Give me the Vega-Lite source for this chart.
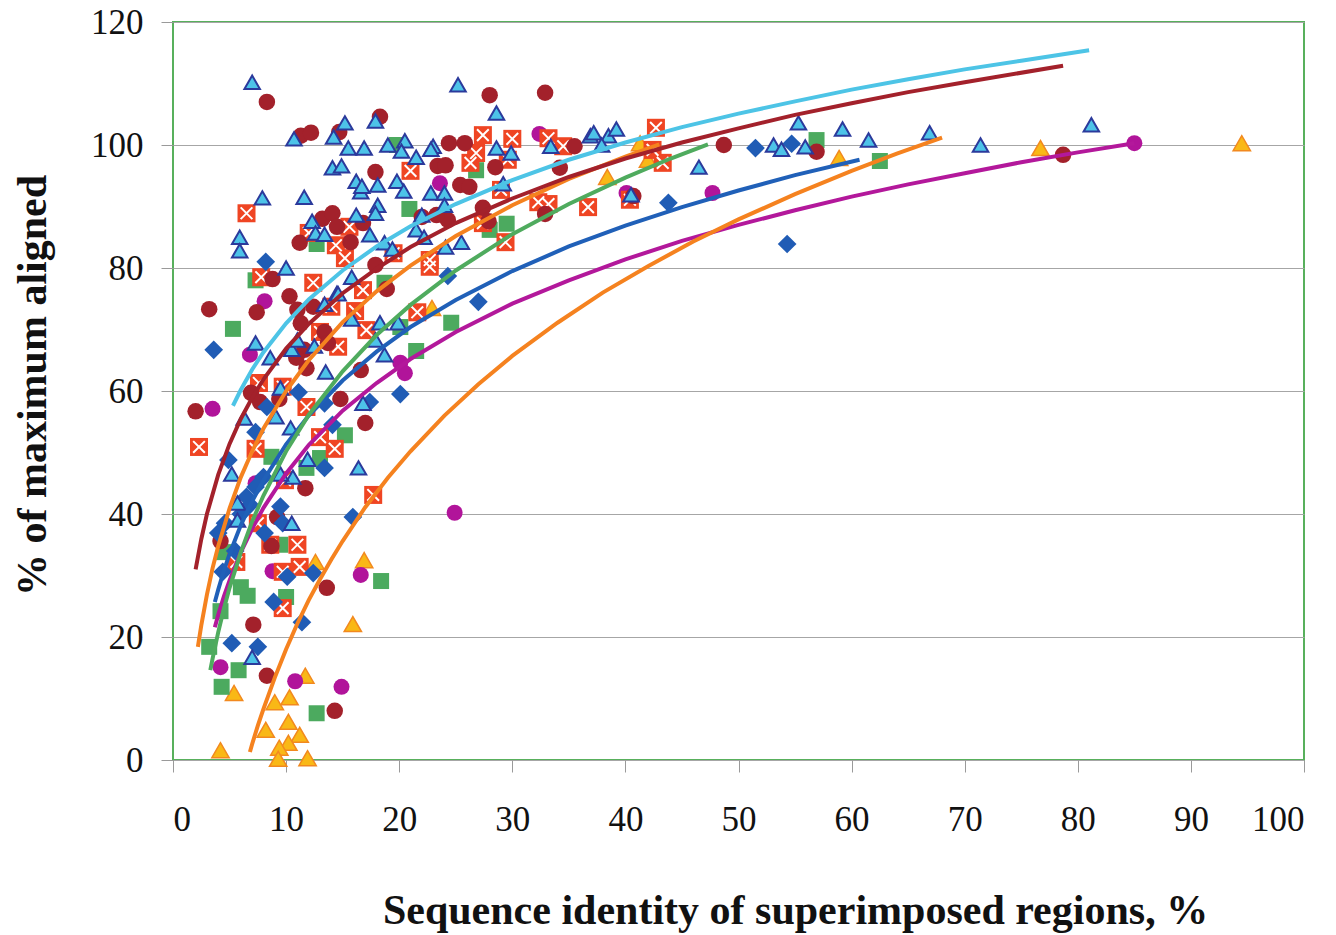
{
  "$schema": "https://vega.github.io/schema/vega-lite/v6.json",
  "width": 1131,
  "height": 738,
  "autosize": {"type": "none"},
  "padding": {"left": 173, "top": 22, "right": 32, "bottom": 175},
  "background": "white",
  "config": {
    "view": {"stroke": "#58b05c", "strokeWidth": 2},
    "axis": {
      "domain": false,
      "tickColor": "#9a9a9a",
      "tickSize": 12,
      "tickWidth": 1,
      "labelFont": "Liberation Serif",
      "labelFontSize": 35,
      "labelColor": "#111111",
      "titleFont": "Liberation Serif",
      "titleFontSize": 42,
      "titleFontWeight": "bold",
      "titleColor": "#111111"
    }
  },
  "datasets": {
    "tri": [
      {"x":7.0,"y":110.2},{"x":15.2,"y":103.6},{"x":10.7,"y":101.0},{"x":14.2,"y":101.3},{"x":15.5,"y":99.5},{"x":16.9,"y":99.5},{"x":14.1,"y":96.3},{"x":14.9,"y":96.6},{"x":16.2,"y":94.1},{"x":16.6,"y":92.4},{"x":16.7,"y":93.3},{"x":7.9,"y":91.4},{"x":11.6,"y":91.5},{"x":12.3,"y":87.6},{"x":12.6,"y":85.7},{"x":13.4,"y":85.5},{"x":16.2,"y":88.6},{"x":17.4,"y":85.4},{"x":5.9,"y":85.0},{"x":5.9,"y":82.8},{"x":10.0,"y":80.0},{"x":15.8,"y":78.5},{"x":14.5,"y":75.9},
      {"x":25.2,"y":109.8},{"x":28.6,"y":105.2},{"x":17.9,"y":103.9},{"x":19.0,"y":100.0},{"x":20.5,"y":100.7},{"x":20.2,"y":99.0},{"x":21.5,"y":98.0},{"x":23.0,"y":99.8},{"x":22.8,"y":99.3},{"x":28.6,"y":99.5},{"x":29.9,"y":98.7},{"x":33.4,"y":99.8},{"x":18.1,"y":93.5},{"x":19.8,"y":94.1},{"x":20.4,"y":92.5},{"x":22.8,"y":92.2},{"x":24.0,"y":92.2},{"x":24.0,"y":90.2},{"x":18.1,"y":90.2},{"x":17.9,"y":88.9},{"x":22.0,"y":88.6},{"x":21.5,"y":86.2},{"x":22.2,"y":85.0},{"x":29.2,"y":93.7},{"x":25.5,"y":84.2},{"x":24.1,"y":83.4},{"x":18.7,"y":84.1},{"x":19.4,"y":83.1},
      {"x":7.3,"y":67.8},{"x":8.6,"y":65.4},{"x":10.5,"y":66.8},{"x":11.0,"y":68.3},{"x":12.5,"y":67.3},{"x":13.4,"y":74.1},{"x":14.6,"y":75.8},{"x":15.8,"y":71.7},{"x":13.5,"y":63.1},{"x":9.5,"y":60.5},{"x":9.1,"y":55.8},{"x":6.3,"y":55.6},{"x":10.4,"y":54.0},{"x":16.8,"y":58.0},{"x":16.4,"y":47.5},{"x":11.9,"y":48.9},{"x":10.6,"y":46.0},{"x":9.5,"y":46.5},{"x":5.2,"y":46.5},{"x":5.7,"y":41.8},{"x":5.7,"y":39.0},{"x":10.5,"y":38.5},
      {"x":18.3,"y":71.1},{"x":19.9,"y":71.1},{"x":17.9,"y":68.3},{"x":18.7,"y":65.9},{"x":7.0,"y":16.7},
      {"x":36.9,"y":101.5},{"x":37.2,"y":102.0},{"x":38.5,"y":101.5},{"x":39.2,"y":102.6},{"x":37.9,"y":100.0},{"x":40.5,"y":91.9},{"x":46.5,"y":96.4},{"x":55.3,"y":103.6},{"x":53.1,"y":100.0},{"x":53.8,"y":99.3},{"x":55.9,"y":99.7},{"x":59.2,"y":102.6},{"x":61.5,"y":100.8},{"x":66.9,"y":102.0},{"x":71.4,"y":100.0},{"x":81.2,"y":103.3}
    ],
    "dia": [
      {"x":3.6,"y":66.7},{"x":54.3,"y":83.9},{"x":51.5,"y":99.5},{"x":54.7,"y":100.2},{"x":43.8,"y":90.6},{"x":24.3,"y":78.7},{"x":27.0,"y":74.5},{"x":20.1,"y":59.5},{"x":11.1,"y":59.8},{"x":8.3,"y":57.4},{"x":7.3,"y":53.3},{"x":13.4,"y":58.0},{"x":14.1,"y":54.5},{"x":17.4,"y":58.2},{"x":4.9,"y":48.8},{"x":13.4,"y":47.5},{"x":8.0,"y":46.0},{"x":9.5,"y":41.2},{"x":7.3,"y":44.4},{"x":6.8,"y":41.5},{"x":4.6,"y":38.5},{"x":15.9,"y":39.5},{"x":6.5,"y":42.8},{"x":8.1,"y":36.9},{"x":9.7,"y":38.5},{"x":12.4,"y":30.4},{"x":10.1,"y":29.8},{"x":8.9,"y":25.7},{"x":11.4,"y":22.4},{"x":5.2,"y":19.0},{"x":7.5,"y":18.4},{"x":4.4,"y":30.6},{"x":8.2,"y":81.0},{"x":4.0,"y":36.9},{"x":5.5,"y":34.0},{"x":6.0,"y":40.0}
    ],
    "grn": [
      {"x":5.3,"y":70.1},{"x":19.8,"y":100.0},{"x":20.9,"y":89.6},{"x":26.8,"y":95.9},{"x":29.5,"y":87.2},{"x":28.0,"y":86.2},{"x":24.6,"y":71.1},{"x":21.5,"y":66.5},{"x":20.1,"y":70.4},{"x":15.2,"y":52.8},{"x":56.9,"y":100.8},{"x":62.5,"y":97.4},{"x":18.4,"y":29.1},{"x":12.7,"y":7.6},{"x":4.3,"y":11.9},{"x":5.8,"y":14.6},{"x":3.2,"y":18.4},{"x":6.0,"y":28.1},{"x":6.6,"y":26.7},{"x":10.0,"y":26.5},{"x":4.2,"y":24.2},{"x":4.5,"y":33.8},{"x":9.5,"y":35.0},{"x":12.7,"y":83.9},{"x":7.3,"y":78.0},{"x":18.7,"y":77.6},{"x":8.7,"y":49.3},{"x":11.8,"y":47.5},{"x":13.0,"y":49.1}
    ],
    "rx": [
      {"x":6.5,"y":88.9},{"x":12.0,"y":85.7},{"x":14.4,"y":83.7},{"x":15.2,"y":81.6},{"x":15.6,"y":86.7},{"x":7.8,"y":78.5},{"x":12.4,"y":77.6},{"x":16.8,"y":76.4},
      {"x":27.4,"y":101.6},{"x":30.0,"y":101.0},{"x":33.2,"y":101.1},{"x":34.5,"y":99.8},{"x":26.8,"y":98.7},{"x":26.3,"y":97.1},{"x":29.6,"y":97.6},{"x":21.0,"y":95.8},{"x":29.0,"y":92.7},{"x":32.3,"y":90.7},{"x":33.2,"y":90.4},{"x":27.4,"y":87.3},{"x":29.4,"y":84.2},{"x":22.7,"y":81.3},{"x":22.7,"y":80.2},{"x":19.5,"y":82.4},
      {"x":7.6,"y":61.3},{"x":9.7,"y":60.7},{"x":11.8,"y":57.4},{"x":14.6,"y":67.2},{"x":13.0,"y":69.6},{"x":14.0,"y":73.7},{"x":16.1,"y":73.0},{"x":17.1,"y":69.9},{"x":2.3,"y":50.9},{"x":7.3,"y":50.6},{"x":13.0,"y":52.5},{"x":14.3,"y":50.6},{"x":9.9,"y":45.5},{"x":17.7,"y":43.1},{"x":21.6,"y":72.8},
      {"x":7.5,"y":38.5},{"x":8.6,"y":35.0},{"x":11.0,"y":35.0},{"x":5.6,"y":32.2},{"x":9.7,"y":30.6},{"x":11.2,"y":31.4},{"x":9.7,"y":24.7},
      {"x":42.7,"y":102.8},{"x":42.4,"y":99.2},{"x":43.3,"y":97.1},{"x":36.7,"y":89.9},{"x":40.4,"y":91.1}
    ],
    "dr": [
      {"x":8.3,"y":107.0},{"x":11.3,"y":101.5},{"x":12.2,"y":102.0},{"x":14.7,"y":102.1},{"x":13.2,"y":88.0},{"x":14.1,"y":88.9},{"x":14.5,"y":86.7},{"x":15.7,"y":84.2},{"x":16.8,"y":87.3},{"x":11.2,"y":84.1},{"x":8.8,"y":78.2},{"x":10.3,"y":75.4},
      {"x":28.0,"y":108.1},{"x":32.9,"y":108.5},{"x":18.3,"y":104.6},{"x":24.4,"y":100.3},{"x":25.8,"y":100.3},{"x":23.4,"y":96.6},{"x":24.1,"y":96.7},{"x":28.5,"y":96.4},{"x":17.9,"y":95.6},{"x":25.4,"y":93.5},{"x":26.2,"y":93.2},{"x":27.4,"y":89.8},{"x":27.9,"y":87.6},{"x":24.3,"y":87.8},{"x":23.3,"y":88.6},{"x":22.0,"y":88.3},{"x":32.9,"y":88.8},{"x":34.2,"y":96.3},{"x":17.9,"y":80.5},{"x":18.9,"y":76.6},
      {"x":3.2,"y":73.3},{"x":7.4,"y":72.8},{"x":11.0,"y":73.2},{"x":11.3,"y":71.0},{"x":11.6,"y":66.7},{"x":12.4,"y":73.7},{"x":13.4,"y":69.6},{"x":13.7,"y":67.8},{"x":11.8,"y":63.7},{"x":10.9,"y":65.4},{"x":6.9,"y":59.7},{"x":7.7,"y":58.2},{"x":9.4,"y":58.7},{"x":14.8,"y":58.7},{"x":17.0,"y":54.8},{"x":16.6,"y":63.4},{"x":2.0,"y":56.7},{"x":11.7,"y":44.2},{"x":9.2,"y":39.5},
      {"x":4.2,"y":35.6},{"x":8.7,"y":34.8},{"x":7.1,"y":22.0},{"x":13.6,"y":28.0},{"x":8.3,"y":13.7},{"x":14.3,"y":8.0},
      {"x":35.5,"y":99.8},{"x":40.7,"y":91.7},{"x":48.7,"y":100.0},{"x":56.9,"y":98.9},{"x":78.7,"y":98.4}
    ],
    "mag": [
      {"x":85.0,"y":100.3},{"x":47.7,"y":92.2},{"x":40.1,"y":92.2},{"x":32.4,"y":101.8},{"x":23.6,"y":93.8},{"x":8.1,"y":74.6},{"x":3.5,"y":57.1},{"x":6.8,"y":65.9},{"x":20.1,"y":64.6},{"x":20.5,"y":62.9},{"x":24.9,"y":40.2},{"x":16.6,"y":30.1},{"x":10.8,"y":12.8},{"x":14.9,"y":11.9},{"x":4.2,"y":15.1},{"x":8.8,"y":30.7},{"x":7.3,"y":45.0}
    ],
    "otri": [
      {"x":94.5,"y":100.3},{"x":76.7,"y":99.5},{"x":58.9,"y":97.9},{"x":38.4,"y":94.8},{"x":42.0,"y":97.6},{"x":41.3,"y":100.3},{"x":22.9,"y":73.5},{"x":12.6,"y":32.2},{"x":16.9,"y":32.5},{"x":15.9,"y":22.1},{"x":11.7,"y":13.7},{"x":5.4,"y":10.9},{"x":9.0,"y":9.4},{"x":10.3,"y":10.2},{"x":10.2,"y":6.2},{"x":8.2,"y":4.9},{"x":11.2,"y":4.1},{"x":10.2,"y":2.8},{"x":9.4,"y":2.0},{"x":4.2,"y":1.6},{"x":9.3,"y":0.2},{"x":11.9,"y":0.3}
    ],
    "lcyan": [
      {"x":5.3,"y":57.6},{"x":6,"y":60.2},{"x":7,"y":63.5},{"x":8,"y":66.3},{"x":10,"y":71.0},{"x":12,"y":74.9},{"x":15,"y":79.6},{"x":18,"y":83.5},{"x":21,"y":86.8},{"x":25,"y":90.4},{"x":30,"y":94.3},{"x":35,"y":97.6},{"x":40,"y":100.4},{"x":45,"y":102.9},{"x":50,"y":105.1},{"x":55,"y":107.1},{"x":60,"y":109.0},{"x":65,"y":110.7},{"x":70,"y":112.3},{"x":75,"y":113.7},{"x":81,"y":115.4}
    ],
    "ldr": [
      {"x":2,"y":31.0},{"x":2.5,"y":35.9},{"x":3,"y":40.0},{"x":4,"y":46.4},{"x":5,"y":51.4},{"x":6,"y":55.5},{"x":7,"y":58.9},{"x":8,"y":61.9},{"x":10,"y":66.9},{"x":12,"y":70.9},{"x":15,"y":75.9},{"x":18,"y":79.9},{"x":21,"y":83.4},{"x":25,"y":87.3},{"x":30,"y":91.3},{"x":35,"y":94.8},{"x":40,"y":97.8},{"x":45,"y":100.4},{"x":50,"y":102.7},{"x":55,"y":104.9},{"x":60,"y":106.8},{"x":65,"y":108.6},{"x":70,"y":110.2},{"x":78.7,"y":112.9}
    ],
    "lor1": [
      {"x":2.2,"y":18.4},{"x":2.5,"y":21.9},{"x":3,"y":26.9},{"x":3.5,"y":31.2},{"x":4,"y":34.8},{"x":5,"y":40.9},{"x":6,"y":46.0},{"x":7,"y":50.2},{"x":8,"y":53.9},{"x":10,"y":60.0},{"x":12,"y":65.0},{"x":15,"y":71.2},{"x":18,"y":76.2},{"x":21,"y":80.4},{"x":25,"y":85.2},{"x":30,"y":90.2},{"x":35,"y":94.5},{"x":40,"y":98.1},{"x":43,"y":100.1}
    ],
    "lor2": [
      {"x":6.8,"y":1.3},{"x":7,"y":2.6},{"x":7.5,"y":5.6},{"x":8,"y":8.3},{"x":9,"y":13.4},{"x":10,"y":18.0},{"x":11,"y":22.2},{"x":12,"y":26.0},{"x":13,"y":29.4},{"x":14,"y":32.6},{"x":15,"y":35.6},{"x":17,"y":41.1},{"x":19,"y":45.9},{"x":21,"y":50.2},{"x":24,"y":56.0},{"x":27,"y":61.1},{"x":30,"y":65.7},{"x":34,"y":71.1},{"x":38,"y":76.0},{"x":42,"y":80.3},{"x":46,"y":84.3},{"x":50,"y":87.9},{"x":55,"y":92.0},{"x":60,"y":95.8},{"x":64,"y":98.6},{"x":68,"y":101.2}
    ],
    "lgrn": [
      {"x":3.3,"y":14.6},{"x":3.5,"y":16.5},{"x":4,"y":20.8},{"x":4.5,"y":24.6},{"x":5,"y":28.0},{"x":6,"y":33.8},{"x":7,"y":38.8},{"x":8,"y":43.0},{"x":10,"y":50.2},{"x":12,"y":56.1},{"x":15,"y":63.2},{"x":18,"y":69.1},{"x":21,"y":74.0},{"x":25,"y":79.6},{"x":30,"y":85.5},{"x":35,"y":90.4},{"x":40,"y":94.7},{"x":44,"y":97.8},{"x":47.3,"y":100.1}
    ],
    "lblu": [
      {"x":3.7,"y":25.7},{"x":4,"y":27.7},{"x":4.5,"y":30.8},{"x":5,"y":33.5},{"x":6,"y":38.2},{"x":7,"y":42.1},{"x":8,"y":45.5},{"x":10,"y":51.3},{"x":12,"y":56.0},{"x":15,"y":61.7},{"x":18,"y":66.4},{"x":21,"y":70.4},{"x":25,"y":74.8},{"x":30,"y":79.5},{"x":35,"y":83.5},{"x":40,"y":86.9},{"x":45,"y":89.9},{"x":50,"y":92.6},{"x":55,"y":95.1},{"x":60.7,"y":97.6}
    ],
    "lmag": [
      {"x":3.7,"y":21.6},{"x":4,"y":23.6},{"x":4.5,"y":26.6},{"x":5,"y":29.2},{"x":6,"y":33.8},{"x":7,"y":37.6},{"x":8,"y":41.0},{"x":10,"y":46.6},{"x":12,"y":51.2},{"x":15,"y":56.8},{"x":18,"y":61.3},{"x":21,"y":65.2},{"x":25,"y":69.6},{"x":30,"y":74.2},{"x":35,"y":78.0},{"x":40,"y":81.4},{"x":45,"y":84.4},{"x":50,"y":87.0},{"x":55,"y":89.4},{"x":60,"y":91.6},{"x":65,"y":93.6},{"x":70,"y":95.4},{"x":75,"y":97.2},{"x":80,"y":98.8},{"x":85,"y":100.3}
    ]
  },
  "encoding": {
    "x": {
      "field": "x", "type": "quantitative",
      "scale": {"domain": [0, 100], "nice": false, "zero": false},
      "axis": {
        "title": "Sequence identity of superimposed regions, %",
        "values": [0,10,20,30,40,50,60,70,80,90,100],
        "grid": false,
        "labelPadding": 30,
        "titleX": 622, "titleY": 163, "titleBaseline": "alphabetic", "titleAlign": "center"
      }
    },
    "y": {
      "field": "y", "type": "quantitative",
      "scale": {"domain": [0, 120], "nice": false, "zero": false},
      "axis": {
        "title": "% of maximum aligned",
        "values": [0,20,40,60,80,100,120],
        "grid": true, "gridColor": "#a6a6a6", "gridWidth": 1,
        "labelPadding": 18,
        "titleX": -141, "titleY": 363, "titleAngle": 270, "titleBaseline": "middle", "titleAlign": "center"
      }
    }
  },
  "layer": [
    {"data": {"name": "otri"}, "mark": {"type": "point", "shape": "triangle-up", "filled": true, "size": 300, "fill": "#f9b816", "stroke": "#f2891f", "strokeWidth": 1.5, "opacity": 1}},
    {"data": {"name": "mag"}, "mark": {"type": "point", "shape": "circle", "filled": true, "size": 256, "color": "#b1149a", "opacity": 1}},
    {"data": {"name": "grn"}, "mark": {"type": "point", "shape": "square", "filled": true, "size": 256, "color": "#4caa5f", "opacity": 1}},
    {"data": {"name": "rx"}, "mark": {"type": "point", "shape": "square", "filled": true, "size": 324, "color": "#ef4523", "opacity": 1}},
    {"data": {"name": "rx"}, "mark": {"type": "point", "shape": "M-0.65,-0.65L0.65,0.65M-0.65,0.65L0.65,-0.65", "filled": false, "size": 324, "stroke": "white", "strokeWidth": 2, "opacity": 1}},
    {"data": {"name": "dr"}, "mark": {"type": "point", "shape": "circle", "filled": true, "size": 272, "color": "#a3212b", "opacity": 1}},
    {"data": {"name": "dia"}, "mark": {"type": "point", "shape": "diamond", "filled": true, "size": 350, "color": "#205cb5", "opacity": 1}},
    {"data": {"name": "tri"}, "mark": {"type": "point", "shape": "triangle-up", "filled": true, "size": 240, "fill": "#4dc3e8", "stroke": "#2b3a9c", "strokeWidth": 2, "opacity": 1}},
    {"data": {"name": "lmag"}, "mark": {"type": "line", "color": "#b3189b", "strokeWidth": 4}},
    {"data": {"name": "lor2"}, "mark": {"type": "line", "color": "#f5821f", "strokeWidth": 4}},
    {"data": {"name": "lblu"}, "mark": {"type": "line", "color": "#2060b8", "strokeWidth": 4}},
    {"data": {"name": "lgrn"}, "mark": {"type": "line", "color": "#4fab5e", "strokeWidth": 4}},
    {"data": {"name": "lor1"}, "mark": {"type": "line", "color": "#f5821f", "strokeWidth": 4}},
    {"data": {"name": "ldr"}, "mark": {"type": "line", "color": "#a3212b", "strokeWidth": 4}},
    {"data": {"name": "lcyan"}, "mark": {"type": "line", "color": "#4dc4e6", "strokeWidth": 4}}
  ]
}
